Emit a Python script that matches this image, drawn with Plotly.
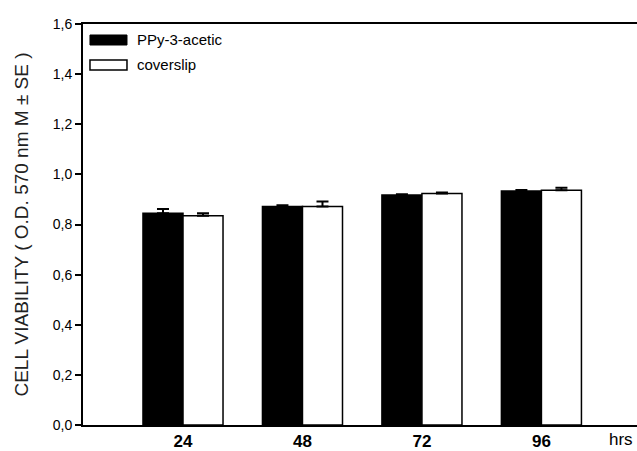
import plotly.graph_objects as go

hours = ["24", "48", "72", "96"]
ppy_values = [0.845, 0.872, 0.918, 0.934]
ppy_err = [0.017, 0.005, 0.003, 0.004]
cover_values = [0.835, 0.872, 0.924, 0.937]
cover_err = [0.010, 0.020, 0.004, 0.010]
y_ticks = [0.0, 0.2, 0.4, 0.6, 0.8, 1.0, 1.2, 1.4, 1.6]
y_ticktext = ["0,0", "0,2", "0,4", "0,6", "0,8", "1,0", "1,2", "1,4", "1,6"]

pos = list(range(len(hours)))
bw = 0.335
FONT = "Liberation Sans, Arial, sans-serif"

fig = go.Figure()
fig.add_trace(go.Bar(
    x=pos, y=ppy_values, width=bw, offset=-bw,
    marker=dict(color="black", line=dict(color="black", width=1.5)),
    error_y=dict(type="data", array=ppy_err, arrayminus=[0]*4, symmetric=False,
                 color="black", thickness=2, width=6),
    name="PPy-3-acetic", showlegend=False,
))
fig.add_trace(go.Bar(
    x=pos, y=cover_values, width=bw, offset=0,
    marker=dict(color="white", line=dict(color="black", width=1.5)),
    error_y=dict(type="data", array=cover_err, arrayminus=[0]*4, symmetric=False,
                 color="black", thickness=2, width=6),
    name="coverslip", showlegend=False,
))

# legend drawn manually
fig.add_shape(type="rect", xref="paper", yref="paper", x0=0.0126, x1=0.0794,
              y0=0.9476, y1=0.9726, fillcolor="black", line=dict(color="black", width=1))
fig.add_shape(type="rect", xref="paper", yref="paper", x0=0.0126, x1=0.0794,
              y0=0.885, y1=0.910, fillcolor="white", line=dict(color="black", width=1.5))
fig.add_annotation(xref="paper", yref="paper", x=0.0939, y=0.962, text="PPy-3-acetic",
                   showarrow=False, xanchor="left", yanchor="middle",
                   font=dict(family=FONT, size=15, color="black"))
fig.add_annotation(xref="paper", yref="paper", x=0.0939, y=0.900, text="coverslip",
                   showarrow=False, xanchor="left", yanchor="middle",
                   font=dict(family=FONT, size=15, color="black"))
fig.add_annotation(xref="paper", yref="paper", x=0.971, y=-0.037, text="hrs",
                   showarrow=False, xanchor="center", yanchor="middle",
                   font=dict(family=FONT, size=17, color="black"))

fig.update_layout(
    width=637, height=451,
    margin=dict(l=83, r=0, t=24, b=26),
    plot_bgcolor="white", paper_bgcolor="white",
    barmode="overlay",
    font=dict(family=FONT, color="black"),
    xaxis=dict(range=[-0.837, 3.80], tickvals=pos, ticktext=hours,
               tickfont=dict(size=17, family="Liberation Sans, Arial", weight="bold"),
               showline=True, linecolor="black", linewidth=2, mirror=True,
               ticks="", showgrid=False, zeroline=False),
    yaxis=dict(range=[0, 1.6], tickvals=y_ticks, ticktext=y_ticktext,
               tickfont=dict(size=14), ticks="outside", ticklen=6, tickwidth=1.5,
               tickcolor="black", showline=True, linecolor="black", linewidth=2,
               showgrid=False, zeroline=False,
               title=dict(text="CELL VIABILITY ( O.D. 570 nm M ± SE )",
                          font=dict(size=19, color="#222"), standoff=19)),
)

fig.write_html("out.html", config={"displayModeBar": False},
               post_script="document.body.style.margin='0px';document.body.style.overflow='hidden';")
